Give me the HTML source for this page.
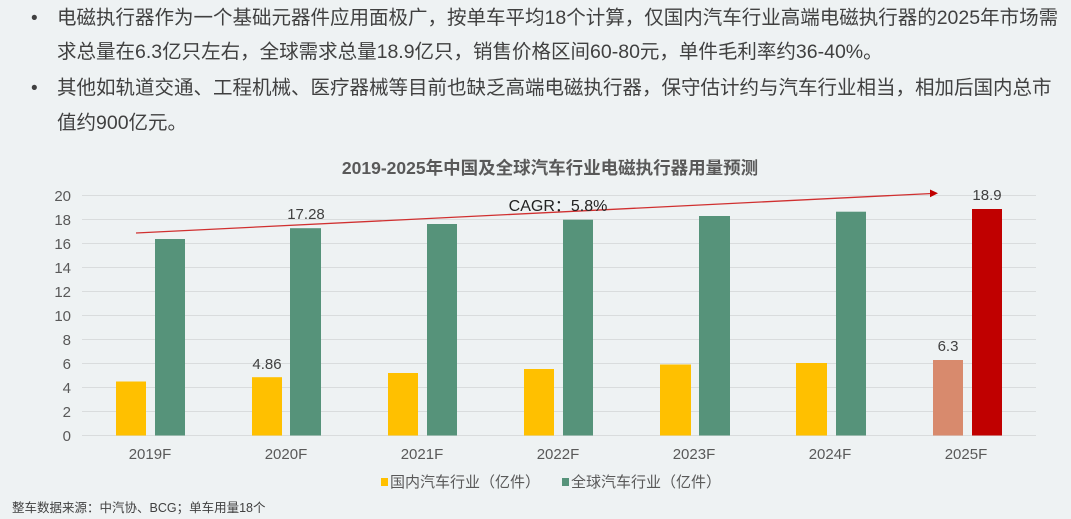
<!DOCTYPE html>
<html><head><meta charset="utf-8"><style>
html,body{margin:0;padding:0;background:#eef2f3;}
body{width:1071px;height:519px;overflow:hidden;position:relative;font-family:"Liberation Sans","Noto Sans CJK SC",sans-serif;}
.t{position:absolute;left:57px;font-size:19.5px;color:#404040;white-space:nowrap;line-height:20px;}
.b{position:absolute;left:31px;font-size:19px;color:#404040;}
</style></head><body>
<div class="b" style="top:8px">•</div>
<div class="t" style="top:8px">电磁执行器作为一个基础元器件应用面极广，按单车平均18个计算，仅国内汽车行业高端电磁执行器的2025年市场需</div>
<div class="t" style="top:42px">求总量在6.3亿只左右，全球需求总量18.9亿只，销售价格区间60-80元，单件毛利率约36-40%。</div>
<div class="b" style="top:78px">•</div>
<div class="t" style="top:78px">其他如轨道交通、工程机械、医疗器械等目前也缺乏高端电磁执行器，保守估计约与汽车行业相当，相加后国内总市</div>
<div class="t" style="top:113px">值约900亿元。</div>
<svg width="1071" height="519" style="position:absolute;left:0;top:0" font-family="Liberation Sans, Noto Sans CJK SC, sans-serif">
<text x="550" y="174" text-anchor="middle" font-size="17.5" font-weight="bold" fill="#595959">2019-2025年中国及全球汽车行业电磁执行器用量预测</text>
<g stroke="#d9dcdd" stroke-width="1">
<line x1="82" x2="1036" y1="195.5" y2="195.5"/><line x1="82" x2="1036" y1="219.5" y2="219.5"/>
<line x1="82" x2="1036" y1="243.5" y2="243.5"/><line x1="82" x2="1036" y1="267.5" y2="267.5"/>
<line x1="82" x2="1036" y1="291.5" y2="291.5"/><line x1="82" x2="1036" y1="315.5" y2="315.5"/>
<line x1="82" x2="1036" y1="339.5" y2="339.5"/><line x1="82" x2="1036" y1="363.5" y2="363.5"/>
<line x1="82" x2="1036" y1="387.5" y2="387.5"/><line x1="82" x2="1036" y1="411.5" y2="411.5"/>
<line x1="82" x2="1036" y1="435.5" y2="435.5"/>
</g>
<g font-size="15" fill="#595959" text-anchor="end">
<text x="71" y="201">20</text><text x="71" y="225">18</text><text x="71" y="249">16</text><text x="71" y="273">14</text>
<text x="71" y="297">12</text><text x="71" y="321">10</text><text x="71" y="345">8</text><text x="71" y="369">6</text>
<text x="71" y="393">4</text><text x="71" y="417">2</text><text x="71" y="441">0</text>
</g>
<g fill="#ffc000">
<rect x="116" y="381.5" width="30" height="54"/>
<rect x="252" y="377.2" width="30" height="58.3"/>
<rect x="388" y="373" width="30" height="62.5"/>
<rect x="524" y="369" width="30" height="66.5"/>
<rect x="660" y="364.5" width="31" height="71"/>
<rect x="796" y="363" width="31" height="72.5"/>
</g>
<rect x="933" y="360" width="30" height="75.5" fill="#d88a6d"/>
<g fill="#56937a">
<rect x="155" y="239" width="30" height="196.5"/>
<rect x="290" y="228.2" width="31" height="207.3"/>
<rect x="427" y="224" width="30" height="211.5"/>
<rect x="563" y="219.7" width="30" height="215.8"/>
<rect x="699" y="216" width="31" height="219.5"/>
<rect x="836" y="211.7" width="30" height="223.8"/>
</g>
<rect x="972" y="209" width="30" height="226.5" fill="#c00000"/>
<line x1="136" y1="233" x2="932" y2="193.5" stroke="#d03030" stroke-width="1.3"/>
<polygon points="938,193.3 930,189.5 930,197.3" fill="#c00000"/>
<g font-size="15" fill="#404040" text-anchor="middle">
<text x="306" y="219">17.28</text>
<text x="267" y="369">4.86</text>
<text x="948" y="351">6.3</text>
<text x="987" y="200">18.9</text>
</g>
<text x="558" y="211" font-size="16" fill="#222" text-anchor="middle">CAGR：5.8%</text>
<g font-size="15" fill="#595959" text-anchor="middle">
<text x="150" y="459">2019F</text><text x="286" y="459">2020F</text><text x="422" y="459">2021F</text>
<text x="558" y="459">2022F</text><text x="694" y="459">2023F</text><text x="830" y="459">2024F</text><text x="966" y="459">2025F</text>
</g>
<rect x="381" y="478" width="7" height="8" fill="#ffc000"/>
<text x="390" y="487" font-size="15" fill="#595959">国内汽车行业（亿件）</text>
<rect x="562" y="478" width="7" height="8" fill="#56937a"/>
<text x="571" y="487" font-size="15" fill="#595959">全球汽车行业（亿件）</text>
<text x="12" y="512" font-size="12.5" fill="#404040">整车数据来源：中汽协、BCG；单车用量18个</text>
</svg>
</body></html>
